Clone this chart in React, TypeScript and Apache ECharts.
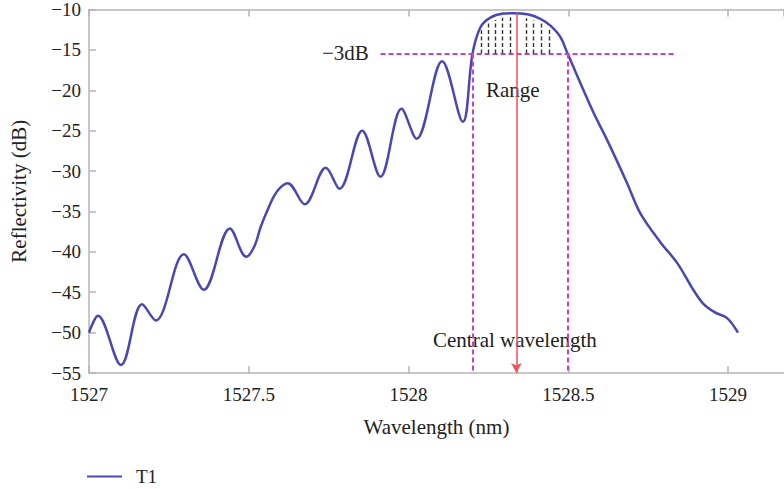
import React, { useEffect, useRef } from 'react';
import * as echarts from 'echarts';

const wavelength = [
  1527.0, 1527.028, 1527.1, 1527.166, 1527.209, 1527.297, 1527.359, 1527.441, 1527.492,
  1527.5166, 1527.5375, 1527.5584, 1527.579, 1527.6, 1527.622, 1527.675, 1527.741, 1527.784,
  1527.855, 1527.912, 1527.978, 1528.025, 1528.105, 1528.17, 1528.2, 1528.225, 1528.256,
  1528.297, 1528.328, 1528.372, 1528.4125, 1528.444, 1528.475, 1528.497, 1528.578, 1528.622,
  1528.684, 1528.725, 1528.788, 1528.841, 1528.891, 1528.922, 1528.959, 1528.997, 1529.031,
];
const reflectivity = [
  -50.0, -47.9, -54.0, -46.5, -48.5, -40.3, -44.7, -37.1, -40.6,
  -39.4, -36.9, -34.85, -33.1, -32.0, -31.5, -34.1, -29.6, -32.2,
  -25.0, -30.7, -22.3, -26.0, -16.4, -23.9, -15.5, -12.2, -11.0,
  -10.5, -10.45, -10.6, -11.15, -12.0, -13.4, -15.4, -22.7, -26.2,
  -31.5, -35.2, -38.8, -41.4, -44.7, -46.4, -47.5, -48.2, -50.0,
];
const xTickLabels = ['1527', '1527.5', '1528', '1528.5', '1529'];
const yTickLabels = ['−10', '−15', '−20', '−25', '−30', '−35', '−40', '−45', '−50', '−55'];

const minus3dB = -15.45;
const rangeStart = 1528.2;
const rangeEnd = 1528.497;
const centralWavelength = 1528.3375;
const hatchX = [1528.228, 1528.25, 1528.272, 1528.294, 1528.319, 1528.369, 1528.391, 1528.416, 1528.441];

const FONT = '"Liberation Serif", "DejaVu Serif", serif';

function curveAt(x: number): number {
  for (let i = 0; i < wavelength.length - 1; i++) {
    if (x >= wavelength[i] && x <= wavelength[i + 1]) {
      const t = (x - wavelength[i]) / (wavelength[i + 1] - wavelength[i]);
      return reflectivity[i] + t * (reflectivity[i + 1] - reflectivity[i]);
    }
  }
  return reflectivity[reflectivity.length - 1];
}

export default function App() {
  const ref = useRef<HTMLDivElement>(null);
  useEffect(() => {
    if (!ref.current) return;
    const chart = echarts.init(ref.current, undefined, { renderer: 'svg' });
    const data = wavelength.map((w, i) => [w, reflectivity[i]]);
    const magenta = { color: '#cc3fc4', width: 2, type: [5, 3] as any };
    const hatchLines = hatchX.map((x) => [
      { coord: [x, minus3dB], lineStyle: { color: '#333', width: 1.4, type: [4, 2.5] } },
      { coord: [x, curveAt(x) - 0.5] },
    ]);
    const axisLineStyle = { color: '#b5b5b5', width: 1.5 };
    chart.setOption({
      animation: false,
      grid: { left: 88, right: 0, top: 9, height: 364 },
      legend: {
        data: [{ name: 'T1', icon: 'rect' }],
        left: 87,
        top: 467,
        padding: 0,
        itemWidth: 35,
        itemHeight: 2,
        itemStyle: { color: '#4a47b4' },
        textStyle: {
          fontFamily: FONT,
          fontSize: 19,
          lineHeight: 19,
          color: '#222',
          padding: [0, 0, 0, 9],
        },
      },
      xAxis: [
        {
          type: 'value',
          min: 1527,
          max: 1529.175,
          interval: 0.5,
          axisLine: { show: true, lineStyle: axisLineStyle },
          axisTick: { inside: true, length: 7, lineStyle: axisLineStyle },
          splitLine: { show: false },
          axisLabel: {
            showMaxLabel: false,
            margin: 12,
            fontFamily: FONT,
            fontSize: 19,
            color: '#222',
            formatter: (v: number) => {
              const idx = Math.round((v - 1527) / 0.5);
              return Math.abs(v - (1527 + idx * 0.5)) < 1e-6 ? xTickLabels[idx] ?? '' : '';
            },
          },
          name: 'Wavelength (nm)',
          nameLocation: 'middle',
          nameGap: 43,
          nameTextStyle: { fontFamily: FONT, fontSize: 21, color: '#222' },
        },
        {
          type: 'value',
          position: 'top',
          min: 1527,
          max: 1529.175,
          interval: 0.5,
          axisLine: { show: true, lineStyle: axisLineStyle },
          axisTick: { inside: true, length: 7, lineStyle: axisLineStyle },
          axisLabel: { show: false },
          splitLine: { show: false },
        },
      ],
      yAxis: {
        type: 'value',
        min: -55,
        max: -10,
        interval: 5,
        axisLine: { show: true, lineStyle: axisLineStyle },
        axisTick: { inside: true, length: 7, lineStyle: axisLineStyle },
        splitLine: { show: false },
        axisLabel: {
          margin: 8,
          fontFamily: FONT,
          fontSize: 19,
          color: '#222',
          formatter: (v: number) => yTickLabels[Math.round((-10 - v) / 5)] ?? '',
        },
        name: 'Reflectivity (dB)',
        nameLocation: 'middle',
        nameGap: 60,
        nameTextStyle: { fontFamily: FONT, fontSize: 21, color: '#222' },
      },
      series: [
        {
          name: 'T1',
          type: 'line',
          data,
          smooth: 0.35,
          symbol: 'none',
          lineStyle: { color: '#4a47b4', width: 2.5 },
          itemStyle: { color: '#4a47b4' },
          z: 3,
          markLine: {
            silent: true,
            symbol: 'none',
            label: { show: false },
            animation: false,
            data: [
              [
                { coord: [1527.9125, minus3dB], lineStyle: magenta },
                { coord: [1528.834, minus3dB] },
              ],
              [
                { coord: [rangeStart, minus3dB], lineStyle: magenta },
                { coord: [rangeStart, -55] },
              ],
              [
                { coord: [rangeEnd, minus3dB], lineStyle: magenta },
                { coord: [rangeEnd, -55] },
              ],
              ...hatchLines,
            ],
          },
        },
        {
          name: 'central',
          type: 'line',
          data: [],
          markLine: {
            silent: true,
            symbol: ['none', 'arrow'],
            symbolSize: [8, 10],
            label: { show: false },
            animation: false,
            lineStyle: { color: '#f0505a', width: 1.5, type: 'solid' },
            data: [[{ coord: [centralWavelength, -10.45] }, { coord: [centralWavelength, -55] }]],
          },
        },
      ],
      graphic: [
        {
          type: 'text',
          left: 322,
          top: 42,
          style: { text: '−3dB', fontFamily: FONT, fontSize: 21, fill: '#222' },
        },
        {
          type: 'text',
          left: 486,
          top: 79,
          style: { text: 'Range', fontFamily: FONT, fontSize: 21, fill: '#222' },
        },
        {
          type: 'text',
          left: 433,
          top: 329,
          style: { text: 'Central wavelength', fontFamily: FONT, fontSize: 21, fill: '#222' },
        },
      ],
    });
    return () => chart.dispose();
  }, []);
  return (
    <div
      ref={ref}
      style={{ position: 'fixed', left: 0, top: 0, width: 784, height: 489, background: '#fff' }}
    />
  );
}
